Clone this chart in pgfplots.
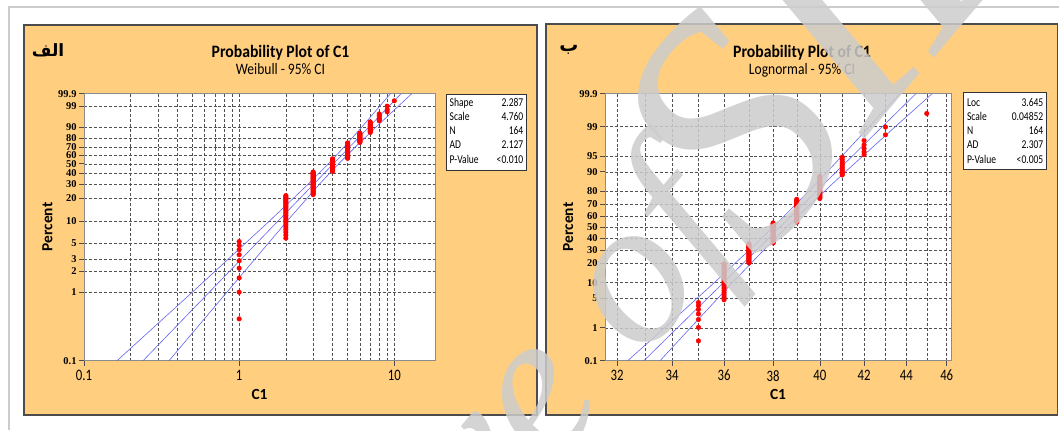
\documentclass[border=0pt]{standalone}
\usepackage{fontspec}
\setmainfont{Carlito}
\newfontfamily\cond[FakeStretch=0.8]{Carlito}
\newfontfamily\titlefont[FakeStretch=0.9]{Carlito}
\newfontfamily\subfont[FakeStretch=0.85]{Carlito}
\newfontfamily\serifnum{Liberation Serif}
\newfontfamily\wmfont{Liberation Serif}
\newfontfamily\arabicfont[Script=Arabic]{DejaVu Sans}
\usepackage{pgfplots}
\pgfplotsset{compat=1.18}
\TeXXeTstate=1

\definecolor{panel}{RGB}{255,207,127}
\definecolor{fitblue}{RGB}{100,100,245}
\definecolor{gridc}{RGB}{80,80,80}

\pgfplotsset{
  probplot/.style={
    scale only axis, anchor=south west,
    height=267bp,
    axis background/.style={fill=white},
    axis line style={black!45, line width=0.9bp},
    xtick pos=lower, ytick pos=left, tick align=outside,
    major tick length=5bp, minor tick length=0bp,
    tick style={black!70, line width=0.6bp},
    grid=both,
    major grid style={gridc, densely dashed, line width=0.5bp},
    minor grid style={gridc, densely dashed, line width=0.5bp},
    xticklabel style={font=\cond\fontsize{16}{16}\selectfont, yshift=-1bp},
    yticklabel style={font=\serifnum\bfseries\fontsize{10.5}{10.5}\selectfont, xshift=1bp},
    ymin=0.1, ymax=99.9,
  },
  fitline/.style={fitblue, line width=0.6bp, mark=none},
  dots/.style={only marks, mark=*, mark size=2.3bp, red, mark options={draw=red, fill=red}},
}

\begin{document}
\begin{tikzpicture}[x=1bp, y=1bp]
\useasboundingbox (0,0) rectangle (1059,430);

% page frame and the two panels
\draw[black!20, line width=1.5bp] (9,0) -- (9,423) -- (1059,423);
\draw[fill=panel, draw=black!70, line width=1.5bp] (24,15) rectangle (537,405);
\draw[fill=panel, draw=black!70, line width=1.5bp] (546,15) rectangle (1057.5,406);

% ---------------- Weibull ----------------
\begin{axis}[probplot,
  at={(84bp,69.3bp)}, width=351bp,
  xmode=log, xmin=0.1, xmax=18.3,
  y coord trafo/.code={\pgfmathparse{ln(-ln(1-#1/100))}},
  xtick={0.1,1,10}, xticklabels={0.1,1,10},
  minor xtick={0.2,0.3,0.4,0.5,0.6,0.7,0.8,0.9,2,3,4,5,6,7,8,9},
  ytick={0.1,1,2,3,5,10,20,30,40,50,60,70,80,90,99,99.9},
  yticklabels={0.1,1,2,3,5,10,20,30,40,50,60,70,80,90,99,99.9},
]
\addplot[fitline] coordinates {(0.1572,0.1) (0.492,1) (1.560,10) (2.789,30) (3.668,48.06) (4.748,70) (6.165,90) (8.084,99) (9.463,99.9)};
\addplot[fitline] coordinates {(0.2323,0.1) (11.083,99.9)};
\addplot[fitline] coordinates {(0.343,0.1) (0.8243,1) (2.030,10) (3.297,30) (4.267,48.06) (5.613,70) (7.621,90) (10.653,99) (12.979,99.9)};
\addplot[dots] coordinates {
 (1,0.43) (1,1.03) (1,1.64) (1,2.25) (1,2.86) (1,3.47) (1,4.08) (1,4.68) (1,5.29)
 (2,5.90) (2,6.51) (2,7.12) (2,7.73) (2,8.33) (2,8.94) (2,9.55) (2,10.16) (2,10.77) (2,11.37) (2,11.98) (2,12.59) (2,13.20) (2,13.81)
 (2,14.42) (2,15.02) (2,15.63) (2,16.24) (2,16.85) (2,17.46) (2,18.07) (2,18.67) (2,19.28) (2,19.89) (2,20.50) (2,21.11) (2,21.72)
 (3,22.32) (3,22.93) (3,23.54) (3,24.15) (3,24.76) (3,25.36) (3,25.97) (3,26.58) (3,27.19) (3,27.80) (3,28.41) (3,29.01) (3,29.62)
 (3,30.23) (3,30.84) (3,31.45) (3,32.06) (3,32.66) (3,33.27) (3,33.88) (3,34.49) (3,35.10) (3,35.71) (3,36.31) (3,36.92) (3,37.53)
 (3,38.14) (3,38.75) (3,39.36) (3,39.96) (3,40.57) (3,41.18)
 (4,41.79) (4,42.40) (4,43.00) (4,43.61) (4,44.22) (4,44.83) (4,45.44) (4,46.05) (4,46.65) (4,47.26) (4,47.87) (4,48.48)
 (4,49.09) (4,49.70) (4,50.30) (4,50.91) (4,51.52) (4,52.13) (4,52.74) (4,53.35) (4,53.95) (4,54.56) (4,55.17) (4,55.78)
 (5,56.39) (5,57.00) (5,57.60) (5,58.21) (5,58.82) (5,59.43) (5,60.04) (5,60.64) (5,61.25) (5,61.86) (5,62.47) (5,63.08)
 (5,63.69) (5,64.29) (5,64.90) (5,65.51) (5,66.12) (5,66.73) (5,67.34) (5,67.94) (5,68.55) (5,69.16) (5,69.77) (5,70.38)
 (5,70.99) (5,71.59) (5,72.20) (5,72.81) (5,73.42) (5,74.03) (5,74.64)
 (6,75.24) (6,75.85) (6,76.46) (6,77.07) (6,77.68) (6,78.28) (6,78.89) (6,79.50) (6,80.11) (6,80.72) (6,81.33) (6,81.93)
 (6,82.54) (6,83.15) (6,83.76) (6,84.37) (6,84.98)
 (7,85.58) (7,86.19) (7,86.80) (7,87.41) (7,88.02) (7,88.63) (7,89.23) (7,89.84) (7,90.45) (7,91.06) (7,91.67) (7,92.27)
 (7,92.88) (7,93.49)
 (8,94.10) (8,94.71) (8,95.32) (8,95.92) (8,96.53) (8,97.14)
 (9,97.75) (9,98.36) (9,98.97)
 (10,99.57)
};
\end{axis}

% ---------------- Lognormal ----------------
\begin{axis}[probplot,
  at={(605bp,69.3bp)}, width=346bp,
  xmode=log, xmin=31.58, xmax=46.22,
  y coord trafo/.code={%
    \pgfmathsetmacro\probq{min(#1,100-#1)/100}%
    \pgfmathsetmacro\probt{sqrt(-2*ln(\probq))}%
    \pgfmathsetmacro\probz{\probt-(2.515517+0.802853*\probt+0.010328*\probt*\probt)/(1+1.432788*\probt+0.189269*\probt*\probt+0.001308*\probt*\probt*\probt)}%
    \pgfmathparse{(#1<50)?(-\probz):(\probz)}},
  xtick={32,34,36,38,40,42,44,46}, xticklabels={32,34,36,38,40,42,44,46},
  minor xtick={33,35,37,39,41,43,45},
  ytick={0.1,1,5,10,20,30,40,50,60,70,80,90,95,99,99.9},
  yticklabels={0.1,1,5,10,20,30,40,50,60,70,80,90,95,99,99.9},
]
\addplot[fitline] coordinates {(32.369,0.1) (33.712,1) (35.615,10) (37.026,30) (37.999,50) (38.958,70) (40.332,90) (42.249,99) (43.689,99.9)};
\addplot[fitline] coordinates {(32.952,0.1) (44.475,99.9)};
\addplot[fitline] coordinates {(33.545,0.1) (34.689,1) (36.336,10) (37.617,30) (38.567,50) (39.580,70) (41.148,90) (43.474,99) (45.276,99.9)};
\addplot[dots] coordinates {
 (35,0.43) (35,1.03) (35,1.64) (35,2.25) (35,2.86) (35,3.47) (35,4.08)
 (36,4.68) (36,5.29) (36,5.90) (36,6.51) (36,7.12) (36,7.73) (36,8.33) (36,8.94) (36,9.55) (36,10.16) (36,10.77) (36,11.37)
 (36,11.98) (36,12.59) (36,13.20) (36,13.81) (36,14.42) (36,15.02) (36,15.63) (36,16.24) (36,16.85) (36,17.46) (36,18.07)
 (36,18.67) (36,19.28) (36,19.89)
 (37,20.50) (37,21.11) (37,21.72) (37,22.32) (37,22.93) (37,23.54) (37,24.15) (37,24.76) (37,25.36) (37,25.97) (37,26.58)
 (37,27.19) (37,27.80) (37,28.41) (37,29.01) (37,29.62) (37,30.23) (37,30.84) (37,31.45) (37,32.06) (37,32.66) (37,33.27)
 (37,33.88) (37,34.49) (37,35.10)
 (38,35.71) (38,36.31) (38,36.92) (38,37.53) (38,38.14) (38,38.75) (38,39.36) (38,39.96) (38,40.57) (38,41.18) (38,41.79)
 (38,42.40) (38,43.00) (38,43.61) (38,44.22) (38,44.83) (38,45.44) (38,46.05) (38,46.65) (38,47.26) (38,47.87) (38,48.48)
 (38,49.09) (38,49.70) (38,50.30) (38,50.91) (38,51.52) (38,52.13) (38,52.74) (38,53.35) (38,53.95)
 (39,54.56) (39,55.17) (39,55.78) (39,56.39) (39,57.00) (39,57.60) (39,58.21) (39,58.82) (39,59.43) (39,60.04) (39,60.64)
 (39,61.25) (39,61.86) (39,62.47) (39,63.08) (39,63.69) (39,64.29) (39,64.90) (39,65.51) (39,66.12) (39,66.73) (39,67.34)
 (39,67.94) (39,68.55) (39,69.16) (39,69.77) (39,70.38) (39,70.99) (39,71.59) (39,72.20) (39,72.81) (39,73.42) (39,74.03)
 (40,74.64) (40,75.24) (40,75.85) (40,76.46) (40,77.07) (40,77.68) (40,78.28) (40,78.89) (40,79.50) (40,80.11) (40,80.72)
 (40,81.33) (40,81.93) (40,82.54) (40,83.15) (40,83.76) (40,84.37) (40,84.98) (40,85.58) (40,86.19) (40,86.80) (40,87.41) (40,88.02)
 (41,88.63) (41,89.23) (41,89.84) (41,90.45) (41,91.06) (41,91.67) (41,92.27) (41,92.88) (41,93.49) (41,94.10) (41,94.71)
 (42,95.32) (42,95.92) (42,96.53) (42,97.14) (42,97.75)
 (43,98.36) (43,98.97)
 (45,99.57)
};
\end{axis}

% titles, labels
\node[anchor=base, font=\titlefont\bfseries\fontsize{17.5}{17.5}\selectfont] at (280.5,372.7) {Probability Plot of C1};
\node[anchor=base, font=\subfont\fontsize{16}{16}\selectfont] at (280.5,356) {Weibull - 95\% CI};
\node[anchor=base, font=\titlefont\bfseries\fontsize{17.5}{17.5}\selectfont] at (802,372.7) {Probability Plot of C1};
\node[anchor=base, font=\subfont\fontsize{16}{16}\selectfont] at (802,356) {Lognormal - 95\% CI};
\node[rotate=90, font=\bfseries\fontsize{15.5}{15.5}\selectfont] at (47.3,203) {Percent};
\node[rotate=90, font=\bfseries\fontsize{15.5}{15.5}\selectfont] at (568.2,203) {Percent};
\node[font=\bfseries\fontsize{15.5}{15.5}\selectfont] at (259.5,36) {C1};
\node[font=\bfseries\fontsize{15.5}{15.5}\selectfont] at (778,36) {C1};
\node[font=\arabicfont\bfseries\fontsize{17}{17}\selectfont] at (48,380) {\beginR الف\endR};
\node[font=\arabicfont\bfseries\fontsize{19}{19}\selectfont] at (569,380) {\beginR ب\endR};

% statistics boxes
\draw[fill=white, draw=black!80, line width=1bp] (446,260) rectangle (526.5,335.5);
\draw[fill=white, draw=black!80, line width=1bp] (963.3,260.7) rectangle (1046.7,337.7);
\foreach \lab/\val [count=\k from 0] in {Shape/2.287, Scale/4.760, N/164, AD/2.127, P-Value/<0.010}{
  \node[anchor=base west, inner sep=0, font=\cond\fontsize{12}{12}\selectfont] at (449.5,324-14.3*\k) {\lab};
  \node[anchor=base east, inner sep=0, font=\cond\fontsize{12}{12}\selectfont] at (523.5,324-14.3*\k) {\val};
}
\foreach \lab/\val [count=\k from 0] in {Loc/3.645, Scale/0.04852, N/164, AD/2.307, P-Value/<0.005}{
  \node[anchor=base west, inner sep=0, font=\cond\fontsize{12}{12}\selectfont] at (966.8,324-14.3*\k) {\lab};
  \node[anchor=base east, inner sep=0, font=\cond\fontsize{12}{12}\selectfont] at (1043.5,324-14.3*\k) {\val};
}

% watermark
\begin{scope}
\clip (0,0) rectangle (1059,430);
\node[rotate=50, anchor=base west, inner sep=0, text=black!20, opacity=0.85,
      font=\wmfont\itshape\fontsize{210}{210}\selectfont] at (195.8,-463.2) {Archive of};
\node[rotate=50, anchor=base west, inner sep=0, text=black!20, opacity=0.85,
      font=\wmfont\itshape\fontsize{330}{330}\selectfont] at (760,165) {SID};
\end{scope}
\end{tikzpicture}
\end{document}
